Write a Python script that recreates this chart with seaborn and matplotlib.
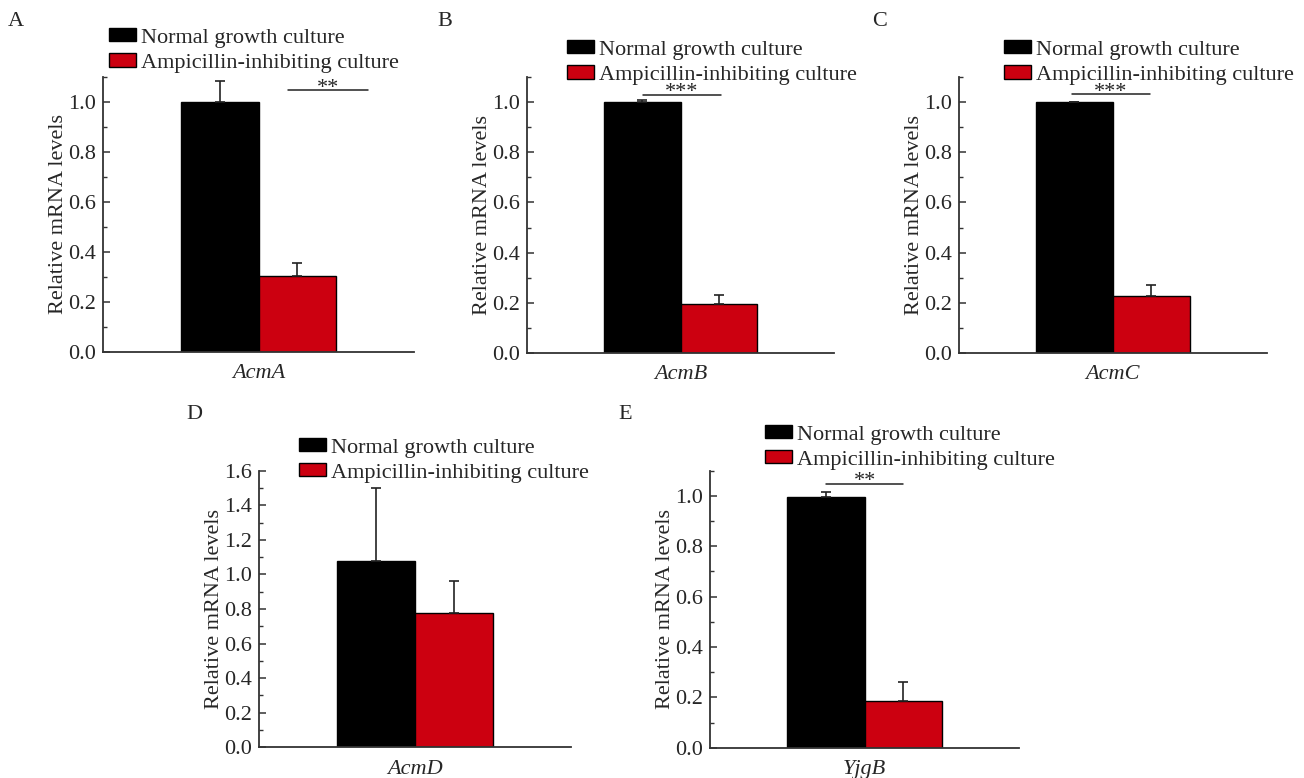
import numpy as np
import pandas as pd
import matplotlib
matplotlib.use("Agg")
import matplotlib.pyplot as plt
from matplotlib.ticker import MultipleLocator
import seaborn as sns

# ---------------- data ----------------
genes = ["AcmA", "AcmB", "AcmC", "AcmD", "YjgB"]
conditions = ["Normal growth culture", "Ampicillin-inhibiting culture"]
normal_mean = [1.00, 1.00, 1.00, 1.078, 0.995]
normal_err = [0.086, 0.011, 0.0, 0.420, 0.021]
amp_mean = [0.305, 0.194, 0.226, 0.775, 0.185]
amp_err = [0.052, 0.036, 0.044, 0.187, 0.077]
sig_marks = ["**", "***", "***", "", "**"]
panel_letters = ["A", "B", "C", "D", "E"]
y_max = [1.1, 1.1, 1.1, 1.6, 1.1]
y_tick_max = [1.0, 1.0, 1.0, 1.6, 1.0]

# ---------------- layout / style ----------------
W, H = 1304, 778
axes_px = [(103, 414, 77, 352), (526.7, 834.3, 77.3, 352.7), (959, 1266.7, 77.3, 352.7),
           (259.3, 570.7, 470.7, 747.3), (710.3, 1018.7, 470.7, 747.7)]
legend_px = [(109, 28), (567, 40), (1004, 40), (299, 438), (765, 425)]
letter_px = [(8, 22), (437, 22), (872, 22), (186, 414), (618, 414)]
sig_line = [(0.095, 0.352, 1.049), (-0.121, 0.131, 1.031), (-0.134, 0.120, 1.033),
            None, (-0.125, 0.126, 1.049)]

BLACK = "#000000"
RED = "#CC0010"
SPINE = "#333333"
FS = 16

sns.set_theme(style="ticks")
plt.rcParams["font.family"] = ["Liberation Serif", "DejaVu Serif"]
plt.rcParams["mathtext.fontset"] = "stix"

fig = plt.figure(figsize=(W / 100, H / 100), dpi=100)
fig.patch.set_facecolor("white")

for i, gene in enumerate(genes):
    l, r, t, b = axes_px[i]
    ax = fig.add_axes([l / W, 1 - b / H, (r - l) / W, (b - t) / H])
    df = pd.DataFrame({
        "gene": [gene, gene],
        "condition": conditions,
        "value": [normal_mean[i], amp_mean[i]],
    })
    sns.barplot(data=df, x="gene", y="value", hue="condition", hue_order=conditions,
                palette=[BLACK, RED], saturation=1, width=0.5, edgecolor="black",
                linewidth=1.0, errorbar=None, ax=ax)
    if ax.get_legend() is not None:
        ax.get_legend().remove()

    errs = [normal_err[i], amp_err[i]]
    for cont, err in zip(ax.containers, errs):
        for p in cont.patches:
            xc = p.get_x() + p.get_width() / 2
            yt = p.get_height()
            ax.errorbar([xc], [yt], yerr=[[0], [err]], fmt="none", ecolor="#222222",
                        elinewidth=1.2, capsize=3.5, capthick=1.2, zorder=3)

    ax.set_xlim(-0.5, 0.5)
    ax.set_ylim(0, y_max[i])
    ax.yaxis.set_major_locator(MultipleLocator(0.2))
    ax.yaxis.set_minor_locator(MultipleLocator(0.1))
    ticks = np.round(np.arange(0, y_tick_max[i] + 0.001, 0.2), 1)
    ax.set_yticks(ticks)
    ax.set_yticklabels([f"{v:.1f}" for v in ticks], fontsize=FS)
    ax.tick_params(axis="y", which="major", direction="in", length=5, width=1.1,
                   color=SPINE, pad=5)
    ax.tick_params(axis="y", which="minor", direction="in", length=3, width=1.0,
                   color=SPINE)
    ax.tick_params(axis="x", length=0, pad=9)
    ax.set_xticks([0])
    ax.set_xticklabels([gene], fontsize=FS, style="italic")
    ax.set_xlabel("")
    ax.set_ylabel("Relative mRNA levels", fontsize=FS, labelpad=0)
    for s in ["top", "right"]:
        ax.spines[s].set_visible(False)
    for s in ["left", "bottom"]:
        ax.spines[s].set_color(SPINE)
        ax.spines[s].set_linewidth(1.3)
    ax.set_facecolor("white")

    # legend
    handles = [matplotlib.patches.Patch(facecolor=BLACK, edgecolor="black", linewidth=1.0),
               matplotlib.patches.Patch(facecolor=RED, edgecolor="black", linewidth=1.0)]
    lx, ly = legend_px[i]
    ax.legend(handles, conditions, loc="upper left", bbox_to_anchor=(lx / W, 1 - ly / H),
              bbox_transform=fig.transFigure, frameon=False, fontsize=FS,
              handlelength=1.2, handleheight=0.55, handletextpad=0.25,
              labelspacing=0.25, borderpad=0, borderaxespad=0)

    # significance
    if sig_line[i] is not None:
        x1, x2, yy = sig_line[i]
        ax.plot([x1, x2], [yy, yy], color="#222222", lw=1.1, clip_on=False)
        ax.annotate(sig_marks[i], xy=((x1 + x2) / 2, yy), xytext=(0, -2),
                    textcoords="offset points", ha="center", va="baseline",
                    fontsize=16, annotation_clip=False)

    px, py = letter_px[i]
    fig.text(px / W, 1 - py / H, panel_letters[i], fontsize=FS, ha="left", va="center")

fig.savefig("out.png", dpi=100, facecolor="white")
